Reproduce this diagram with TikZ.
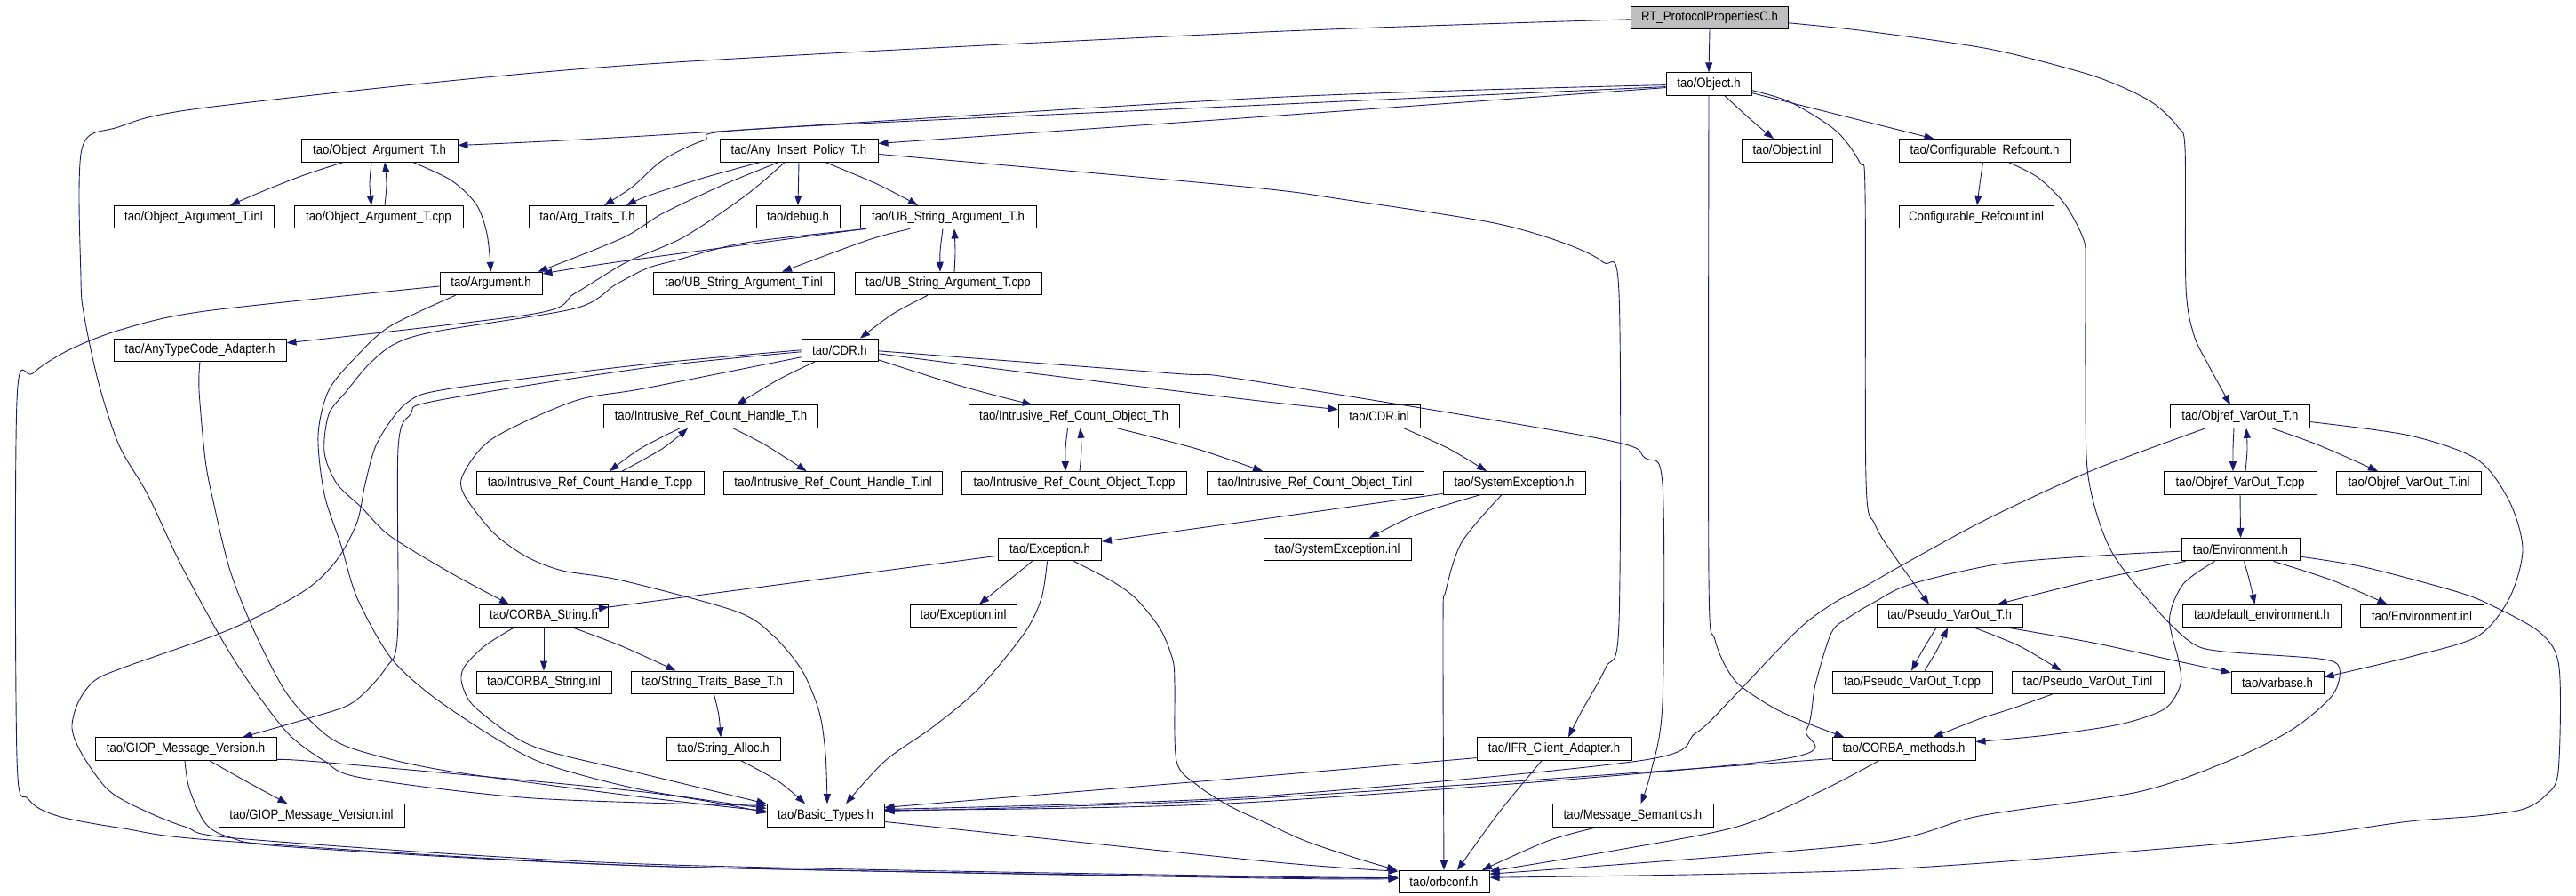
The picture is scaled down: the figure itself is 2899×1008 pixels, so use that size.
\documentclass[tikz,border=0pt]{standalone}
\usepackage{fontspec}
\newfontfamily\dfont[FakeStretch=0.88]{Liberation Sans}
\usetikzlibrary{arrows.meta}
\definecolor{mblue}{HTML}{191970}
\definecolor{rootgray}{HTML}{BFBFBF}
\begin{document}
\begin{tikzpicture}[x=1pt,y=-1pt,
  box/.style={draw=black, line width=1pt, fill=white, inner sep=0pt, minimum height=25.5pt, font=\dfont\fontsize{15}{18}\selectfont},
  lnk/.style={draw=mblue, line width=0.9pt, -{Triangle[length=11pt,width=8pt]}, mblue}]
\fill[white] (0,0) rectangle (2899,1008);
\useasboundingbox (0,0) rectangle (2899,1008);
% nodes
\node[box, fill=rootgray, minimum width=177pt] (rt) at (1924,19.8) {RT\_ProtocolPropertiesC.h};
\node[box, minimum width=96pt] (obj) at (1923,94.6) {tao/Object.h};
\node[box, minimum width=176pt] (oat) at (427,169.4) {tao/Object\_Argument\_T.h};
\node[box, minimum width=178pt] (aip) at (899,169.4) {tao/Any\_Insert\_Policy\_T.h};
\node[box, minimum width=102pt] (objinl) at (2011,169.4) {tao/Object.inl};
\node[box, minimum width=193pt] (cfr) at (2233.5,169.4) {tao/Configurable\_Refcount.h};
\node[box, minimum width=180pt] (oatinl) at (218,244.2) {tao/Object\_Argument\_T.inl};
\node[box, minimum width=190pt] (oatcpp) at (426,244.2) {tao/Object\_Argument\_T.cpp};
\node[box, minimum width=132pt] (argtr) at (661,244.2) {tao/Arg\_Traits\_T.h};
\node[box, minimum width=94pt] (debug) at (898,244.2) {tao/debug.h};
\node[box, minimum width=198pt] (ubs) at (1067,244.2) {tao/UB\_String\_Argument\_T.h};
\node[box, minimum width=174pt] (cfrinl) at (2224,244.2) {Configurable\_Refcount.inl};
\node[box, minimum width=115pt] (argument) at (552.5,319) {tao/Argument.h};
\node[box, minimum width=204pt] (ubsinl) at (837,319) {tao/UB\_String\_Argument\_T.inl};
\node[box, minimum width=210pt] (ubscpp) at (1067,319) {tao/UB\_String\_Argument\_T.cpp};
\node[box, minimum width=194pt] (atca) at (225,393.8) {tao/AnyTypeCode\_Adapter.h};
\node[box, minimum width=86pt] (cdr) at (945,393.8) {tao/CDR.h};
\node[box, minimum width=241pt] (irch) at (800,468.6) {tao/Intrusive\_Ref\_Count\_Handle\_T.h};
\node[box, minimum width=237pt] (irco) at (1208.5,468.6) {tao/Intrusive\_Ref\_Count\_Object\_T.h};
\node[box, minimum width=92pt] (cdrinl) at (1552,468.6) {tao/CDR.inl};
\node[box, minimum width=157pt] (ovh) at (2521,468.6) {tao/Objref\_VarOut\_T.h};
\node[box, minimum width=256pt] (irchcpp) at (664,543.4) {tao/Intrusive\_Ref\_Count\_Handle\_T.cpp};
\node[box, minimum width=246pt] (irchinl) at (937.6,543.4) {tao/Intrusive\_Ref\_Count\_Handle\_T.inl};
\node[box, minimum width=253pt] (ircocpp) at (1209,543.4) {tao/Intrusive\_Ref\_Count\_Object\_T.cpp};
\node[box, minimum width=244pt] (ircoinl) at (1480,543.4) {tao/Intrusive\_Ref\_Count\_Object\_T.inl};
\node[box, minimum width=160pt] (sysexc) at (1704,543.4) {tao/SystemException.h};
\node[box, minimum width=172pt] (ovcpp) at (2521,543.4) {tao/Objref\_VarOut\_T.cpp};
\node[box, minimum width=163pt] (ovinl) at (2711,543.4) {tao/Objref\_VarOut\_T.inl};
\node[box, minimum width=116pt] (exc) at (1181.5,618.2) {tao/Exception.h};
\node[box, minimum width=166pt] (sysexcinl) at (1505,618.2) {tao/SystemException.inl};
\node[box, minimum width=133pt] (env) at (2521.5,618.2) {tao/Environment.h};
\node[box, minimum width=145pt] (corbastr) at (612,693) {tao/CORBA\_String.h};
\node[box, minimum width=120pt] (excinl) at (1084,693) {tao/Exception.inl};
\node[box, minimum width=164pt] (pvh) at (2194,693) {tao/Pseudo\_VarOut\_T.h};
\node[box, minimum width=179pt] (defenv) at (2545.5,693) {tao/default\_environment.h};
\node[box, minimum width=139pt] (envinl) at (2725.5,693) {tao/Environment.inl};
\node[box, minimum width=152pt] (corbastrinl) at (612,767.8) {tao/CORBA\_String.inl};
\node[box, minimum width=182pt] (stb) at (801.5,767.8) {tao/String\_Traits\_Base\_T.h};
\node[box, minimum width=180pt] (pvcpp) at (2152,767.8) {tao/Pseudo\_VarOut\_T.cpp};
\node[box, minimum width=171pt] (pvinl) at (2349.5,767.8) {tao/Pseudo\_VarOut\_T.inl};
\node[box, minimum width=104pt] (varbase) at (2563,767.8) {tao/varbase.h};
\node[box, minimum width=204pt] (giop) at (209,842.6) {tao/GIOP\_Message\_Version.h};
\node[box, minimum width=128pt] (stralloc) at (814,842.6) {tao/String\_Alloc.h};
\node[box, minimum width=174pt] (ifr) at (1749,842.6) {tao/IFR\_Client\_Adapter.h};
\node[box, minimum width=161pt] (corbameth) at (2142.5,842.6) {tao/CORBA\_methods.h};
\node[box, minimum width=209pt] (giopinl) at (350.5,917.4) {tao/GIOP\_Message\_Version.inl};
\node[box, minimum width=132pt] (basic) at (929,917.4) {tao/Basic\_Types.h};
\node[box, minimum width=181pt] (msgsem) at (1837.5,917.4) {tao/Message\_Semantics.h};
\node[box, minimum width=102pt] (orbconf) at (1625,992.2) {tao/orbconf.h};
% edges
\draw[lnk] (rt.south) -- (obj.north);
\draw[lnk] plot[smooth,tension=.5] coordinates {([yshift=-2pt]rt.west) (1400,37) (700,74) (240,120) (133,143) (92,168) (91,313) (95,357) (111,431) (134,501) (166,556) (203,634) (250,720) (282,770) (324,825) (365,856) (407,875) (600,898) ([yshift=11pt]basic.west)};
\draw[lnk] plot[smooth,tension=.5] coordinates {([yshift=-6pt]rt.east) (2100,35) (2238,55) (2345,82) (2393,100) (2426,118) (2451,143) (2459,167) (2460,323) (2469,377) (2485,410) (2503,443) ([xshift=-11pt]ovh.north)};
\draw[lnk] plot[smooth,tension=.5] coordinates {([yshift=-1pt]obj.west) (1425,110) (725,153) ([yshift=6pt]oat.east)};
\draw[lnk] plot[smooth,tension=.5] coordinates {([yshift=-3pt]obj.west) (1425,118) (852,145) (792,158) (746,180) (712,210) ([xshift=19pt]argtr.north)};
\draw[lnk] plot[smooth,tension=.5] coordinates {([yshift=-4pt]obj.west) (1425,131) ([yshift=8pt]aip.east)};
\draw[lnk] plot[smooth,tension=.5] coordinates {([xshift=18pt]obj.south) (1973,137) ([xshift=-15pt]objinl.north)};
\draw[lnk] ([yshift=-10pt]obj.east) -- ([xshift=-57pt]cfr.north);
\draw[lnk] plot[smooth,tension=.5] coordinates {([yshift=-7pt]obj.east) (2015,115) (2066,147) (2093,183) (2099,217) (2100,540) (2110,590) (2135,630) ([xshift=-23pt]pvh.north)};
\draw[lnk] plot[smooth,tension=.5] coordinates {(obj.south) (1923,650) (1930,720) (1952,765) (1992,794) (2030,812) ([xshift=-67pt]corbameth.north)};
\draw[lnk] plot[smooth,tension=.5] coordinates {([xshift=-44pt]aip.south) (792,200) (730,220) ([xshift=44pt]argtr.north)};
\draw[lnk] plot[smooth,tension=.5] coordinates {([xshift=-23pt]aip.south) (816,207) (746,240) (700,268) ([xshift=53pt]argument.north)};
\draw[lnk] plot[smooth,tension=.5] coordinates {([xshift=-16pt]aip.south) (839,220) (769,267) (705,295) (647,330) (601,353) ([yshift=8pt]atca.east)};
\draw[lnk] (aip.south) -- (debug.north);
\draw[lnk] plot[smooth,tension=.5] coordinates {([xshift=30pt]aip.south) (987,207) ([xshift=-34pt]ubs.north)};
\draw[lnk] plot[smooth,tension=.5] coordinates {([yshift=-4pt]aip.east) (1400,210) (1516,225) (1677,250) (1756,272) (1804,295) (1822,330) (1822,700) (1807,751) (1780,800) ([xshift=16pt]ifr.north)};
\draw[lnk] plot[smooth,tension=.5] coordinates {([xshift=-41pt]oat.south) (342,197) (296,215) ([xshift=41pt]oatinl.north)};
\draw[lnk] plot[smooth,tension=.5] coordinates {([xshift=-9pt]oat.south) (416,207) ([xshift=-8pt]oatcpp.north)};
\draw[lnk] plot[smooth,tension=.5] coordinates {([xshift=7pt]oatcpp.north) (435,207) ([xshift=6pt]oat.south)};
\draw[lnk] plot[smooth,tension=.5] coordinates {([xshift=38pt]oat.south) (508,203) (536,230) (548,263) (argument.north)};
\draw[lnk] plot[smooth,tension=.5] coordinates {([yshift=-3pt]argument.west) (231,350) (139,370) (79,393) (37,420) (19,451) (19,852) (32,899) (65,918) (139,932) (250,946) (725,974) (1425,987) ([yshift=5pt]orbconf.west)};
\draw[lnk] plot[smooth,tension=.5] coordinates {([xshift=-40pt]argument.south) (439,367) (402,400) (370,439) (358,490) (365,556) (384,614) (402,673) (439,739) (485,782) (555,829) (615,860) (725,889) ([yshift=8pt]basic.west)};
\draw[lnk] plot[smooth,tension=.5] coordinates {([xshift=-94pt]ubs.south) (700,294) ([yshift=11pt]argument.east)};
\draw[lnk] plot[smooth,tension=.5] coordinates {([xshift=-92pt]ubs.south) (839,273) (760,293) (728,302) (693,320) (647,347) (490,373) (444,387) (415,410) (390,440) (370,466) (365,509) (379,544) (407,571) (439,603) (508,645) ([xshift=-39pt]corbastr.north)};
\draw[lnk] plot[smooth,tension=.5] coordinates {([xshift=-43pt]ubs.south) (977,270) ([xshift=43pt]ubsinl.north)};
\draw[lnk] plot[smooth,tension=.5] coordinates {([xshift=-6pt]ubs.south) (1058,283) ([xshift=-9pt]ubscpp.north)};
\draw[lnk] plot[smooth,tension=.5] coordinates {([xshift=7pt]ubscpp.north) (1075,283) ([xshift=7pt]ubs.south)};
\draw[lnk] plot[smooth,tension=.5] coordinates {([xshift=-23pt]ubscpp.south) (1005,353) ([xshift=23pt]cdr.north)};
\draw[lnk] plot[smooth,tension=.5] coordinates {(atca.south) (224,439) (231,517) (240,564) (259,642) (287,712) (324,782) (370,829) (416,848) (508,868) (725,897) ([yshift=5pt]basic.west)};
\draw[lnk] plot[smooth,tension=.5] coordinates {([xshift=-28pt]cdr.south) (876,427) ([xshift=29pt]irch.north)};
\draw[lnk] plot[smooth,tension=.5] coordinates {([yshift=-11pt]cdr.east) (1084,435) ([xshift=-47pt]irco.north)};
\draw[lnk] plot[smooth,tension=.5] coordinates {([yshift=-4pt]cdr.east) (1162,420) (1400,449) ([yshift=8pt]cdrinl.west)};
\draw[lnk] plot[smooth,tension=.5] coordinates {([yshift=-1pt]cdr.east) (1319,420) (1400,427) (1798,493) (1851,515) (1871,545) (1871,790) (1858,868) ([xshift=9pt]msgsem.north)};
\draw[lnk] plot[smooth,tension=.5] coordinates {([yshift=-2pt]cdr.west) (725,414) (490,451) (462,466) (448,505) (447.5,712) (434.6,751) (397.6,790) (351,807) ([xshift=64pt]giop.north)};
\draw[lnk] plot[smooth,tension=.5] coordinates {(cdr.west) (725,410) (508,437) (458,453) (425,497) (411,544) (402,587) (379,630) (342,665) (259,708) (139,751) (106,766) (88,790) (81,819) (92,848) (120,887) (152,907) (208,930) (277,944) (725,972) (1425,986) ([yshift=5pt]orbconf.west)};
\draw[lnk] plot[smooth,tension=.5] coordinates {([yshift=-8pt]cdr.west) (725,437) (647,451) (555,493) (522,532) (522,556) (555,599) (592,626) (633,642) (700,653) (829,688) (871,716) (903,755) (922,801) (929,848) ([xshift=2pt]basic.north)};
\draw[lnk] plot[smooth,tension=.5] coordinates {([xshift=-35pt]irch.south) (720,505) ([xshift=22pt]irchcpp.north)};
\draw[lnk] plot[smooth,tension=.5] coordinates {([xshift=36pt]irchcpp.north) (745,505) ([xshift=-26pt]irch.south)};
\draw[lnk] plot[smooth,tension=.5] coordinates {([xshift=25pt]irch.south) (862,501) ([xshift=-30pt]irchinl.north)};
\draw[lnk] plot[smooth,tension=.5] coordinates {([xshift=-7pt]irco.south) (1199,505) ([xshift=-10pt]ircocpp.north)};
\draw[lnk] plot[smooth,tension=.5] coordinates {([xshift=6pt]ircocpp.north) (1217,505) ([xshift=7pt]irco.south)};
\draw[lnk] plot[smooth,tension=.5] coordinates {([xshift=49pt]irco.south) (1347,505) ([xshift=-59pt]ircoinl.north)};
\draw[lnk] plot[smooth,tension=.5] coordinates {([xshift=28pt]cdrinl.south) (1631,505) ([xshift=-31pt]sysexc.north)};
\draw[lnk] plot[smooth,tension=.5] coordinates {([yshift=-12pt]sysexc.west) (1400,587) ([yshift=9pt]exc.east)};
\draw[lnk] plot[smooth,tension=.5] coordinates {([xshift=-38pt]sysexc.south) (1594,579) ([xshift=36pt]sysexcinl.north)};
\draw[lnk] plot[smooth,tension=.5] coordinates {([xshift=-14pt]sysexc.south) (1645,610) (1627,665) (1624,700) (orbconf.north)};
\draw[lnk] plot[smooth,tension=.5] coordinates {([yshift=-7pt]exc.west) (700,681) ([yshift=10pt]corbastr.east)};
\draw[lnk] plot[smooth,tension=.5] coordinates {([xshift=-20pt]exc.south) (1135,653) ([xshift=18pt]excinl.north)};
\draw[lnk] plot[smooth,tension=.5] coordinates {([xshift=-3pt]exc.south) (1172,673) (1153,712) (1102,774) (1051,817) (996,856) ([xshift=23pt]basic.north)};
\draw[lnk] plot[smooth,tension=.5] coordinates {([xshift=27pt]exc.south) (1250,653) (1278,673) (1306,708) (1320,743) (1322,770) (1324,856) (1347,883) (1384,907) (1425,926) (1469,946) (1525,965) ([xshift=-53pt]orbconf.north)};
\draw[lnk] (corbastr.south) -- (corbastrinl.north);
\draw[lnk] plot[smooth,tension=.5] coordinates {([xshift=33pt]corbastr.south) (700,727) ([xshift=-41pt]stb.north)};
\draw[lnk] plot[smooth,tension=.5] coordinates {([xshift=-34pt]corbastr.south) (545,727) (522,751) (520,770) (536,797) (601,840) (725,871) (basic.north west)};
\draw[lnk] plot[smooth,tension=.5] coordinates {([xshift=2pt]stb.south) (809,805) ([xshift=-3pt]stralloc.north)};
\draw[lnk] plot[smooth,tension=.5] coordinates {([xshift=20pt]stralloc.south) (876,879) ([xshift=-23pt]basic.north)};
\draw[lnk] plot[smooth,tension=.5] coordinates {([xshift=27pt]giop.south) (277,879) ([xshift=-27pt]giopinl.north)};
\draw[lnk] plot[smooth,tension=.5] coordinates {([yshift=-12pt]giop.east) (370,858) (725,891) ([yshift=3pt]basic.west)};
\draw[lnk] plot[smooth,tension=.5] coordinates {([xshift=-1pt]giop.south) (213,887) (231,926) (259,942) (330,953) (725,974) (1425,988) ([yshift=4pt]orbconf.west)};
\draw[lnk] plot[smooth,tension=.5] coordinates {([yshift=-7pt]basic.east) (1425,969) ([yshift=12pt]orbconf.west)};
\draw[lnk] plot[smooth,tension=.5] coordinates {([yshift=-10pt]ifr.west) (1400,875) ([yshift=9pt]basic.east)};
\draw[lnk] plot[smooth,tension=.5] coordinates {([xshift=-14pt]ifr.south) (1687,914) ([xshift=15pt]orbconf.north)};
\draw[lnk] plot[smooth,tension=.5] coordinates {([xshift=-40pt]msgsem.south) (1742,946) ([xshift=43pt]orbconf.north)};
\draw[lnk] plot[smooth,tension=.5] coordinates {([yshift=-11pt]corbameth.west) (1400,899) ([yshift=5pt]basic.east)};
\draw[lnk] plot[smooth,tension=.5] coordinates {([xshift=-28pt]corbameth.south) (2047,891) (1955,930) (1816,957) ([yshift=12pt]orbconf.east)};
\draw[lnk] plot[smooth,tension=.5] coordinates {([xshift=-7pt]ovh.south) (2513,505) ([xshift=-8pt]ovcpp.north)};
\draw[lnk] plot[smooth,tension=.5] coordinates {([xshift=6pt]ovcpp.north) (2529,505) ([xshift=7pt]ovh.south)};
\draw[lnk] plot[smooth,tension=.5] coordinates {([xshift=36pt]ovh.south) (2610,501) ([xshift=-35pt]ovinl.north)};
\draw[lnk] plot[smooth,tension=.5] coordinates {([yshift=-6pt]ovh.east) (2712,490) (2788,517) (2824,564) (2839,618) (2824,673) (2788,716) (2712,739) ([yshift=6pt]varbase.east)};
\draw[lnk] plot[smooth,tension=.5] coordinates {([xshift=-39pt]ovh.south) (2355,529) (2238,583) (2151,630) (2100,659) (2066,677) (2033,700) (2001,731) (1945,790) (1908,825) (1844,856) (1400,897) ([yshift=7pt]basic.east)};
\draw[lnk] (ovcpp.south) -- (env.north);
\draw[lnk] plot[smooth,tension=.5] coordinates {([xshift=-62pt]env.south) (2355,653) ([xshift=54pt]pvh.north)};
\draw[lnk] plot[smooth,tension=.5] coordinates {([xshift=4pt]env.south) (2532,655) ([xshift=-8pt]defenv.north)};
\draw[lnk] plot[smooth,tension=.5] coordinates {([xshift=37pt]env.south) (2625,653) ([xshift=-39pt]envinl.north)};
\draw[lnk] plot[smooth,tension=.5] coordinates {([xshift=-29pt]env.south) (2457,657) (2441.5,696) (2451.7,743) (2454,770) (2436,797.5) (2385,815) (2304,827) ([yshift=8pt]corbameth.east)};
\draw[lnk] plot[smooth,tension=.5] coordinates {([yshift=-8pt]env.east) (2660.6,638) (2762.6,665) (2803,680.6) (2859,712) (2880,751) (2879,868) (2864.5,895) (2839,910.5) (2788,918) (2711.6,924) (2609.7,938) (2457,953) (2100,979) ([yshift=5pt]orbconf.east)};
\draw[lnk] plot[smooth,tension=.5] coordinates {([yshift=-2pt]env.west) (2380,624) (2253,634) (2151,657) (2110,677) (2080,695) (2061,712) (2043,770) (2033,821) (1992,856) (1400,903) ([yshift=6pt]basic.east)};
\draw[lnk] plot[smooth,tension=.5] coordinates {([xshift=-15pt]pvh.south) (2164,731) ([xshift=-1pt]pvcpp.north)};
\draw[lnk] plot[smooth,tension=.5] coordinates {([xshift=14pt]pvcpp.north) (2180,731) ([xshift=-2pt]pvh.south)};
\draw[lnk] plot[smooth,tension=.5] coordinates {([xshift=28pt]pvh.south) (2273,727) ([xshift=-30pt]pvinl.north)};
\draw[lnk] plot[smooth,tension=.5] coordinates {([xshift=66pt]pvh.south) (2355,723) (2446.6,743) ([yshift=11pt]varbase.west)};
\draw[lnk] plot[smooth,tension=.5] coordinates {([xshift=-40pt]pvinl.south) (2263,797.5) (2227,809) ([xshift=33pt]corbameth.north)};
\draw[lnk] plot[smooth,tension=.5] coordinates {([xshift=-2pt]cfr.south) (2228,207) ([xshift=1pt]cfrinl.north)};
\draw[lnk] plot[smooth,tension=.5] coordinates {([xshift=27pt]cfr.south) (2294,200) (2324,230) (2345,270) (2347,300) (2347,420) (2350,536) (2375,618) (2426,684.5) (2467,723.5) (2502.6,733) (2609.7,741) (2632.6,751) (2625,782) (2579,821) (2508,856) (2406,891) (2227.4,918) (2100,949.5) ([yshift=9pt]orbconf.east)};
\end{tikzpicture}
\end{document}
